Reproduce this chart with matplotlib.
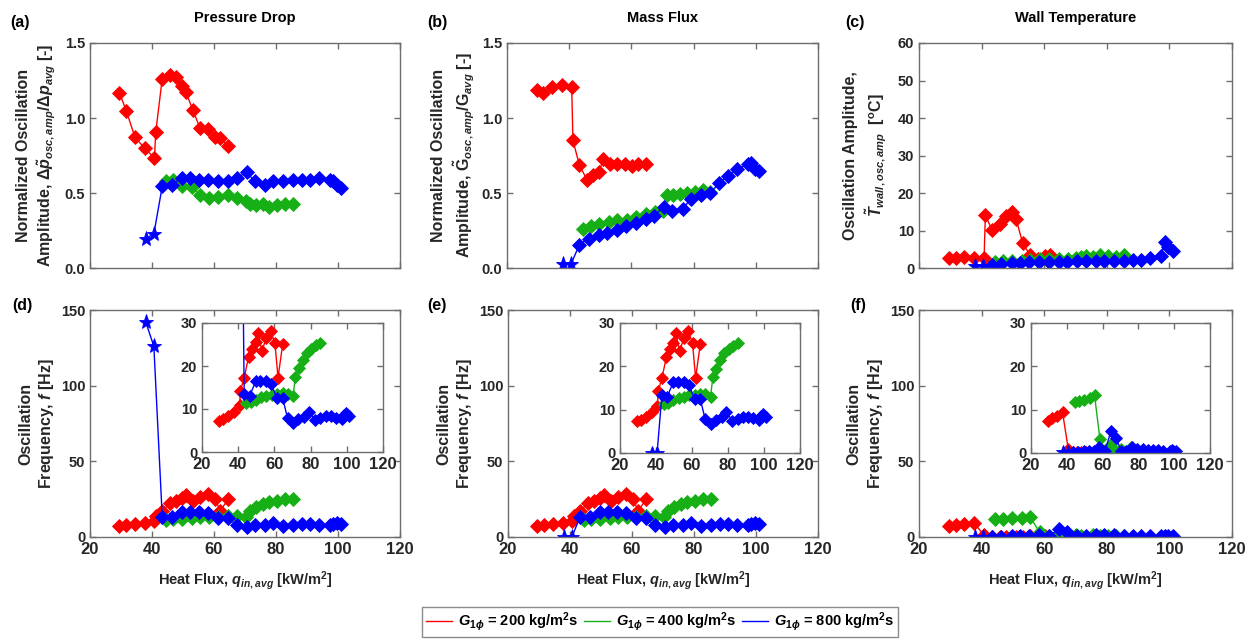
import matplotlib
matplotlib.use("Agg")
import matplotlib.pyplot as plt
from matplotlib.lines import Line2D

# ---------------- data ----------------
x_200 = [29.5, 31.7, 34.5, 37.6, 40.8, 41.2, 43.3, 45.8, 47.7, 49.6, 51.0, 53.1, 55.5, 58.0, 60.3, 62.0, 64.6]
x_400 = [44.4, 46.9, 49.6, 52.8, 55.5, 58.5, 61.4, 64.6, 67.5, 70.3, 71.6, 73.5, 75.7, 77.8, 80.4, 82.9, 85.4]
x_800 = [38.0, 40.6, 43.3, 46.3, 49.6, 52.3, 55.3, 58.2, 61.4, 64.6, 67.3, 70.5, 73.2, 76.5,
         79.1, 82.4, 85.4, 88.3, 91.0, 93.9, 97.4, 98.5, 99.6, 101.0]
n_star_800 = 2  # first two G=800 points drawn as stars

# (a) normalized pressure-drop amplitude
dp_200 = [1.167, 1.049, 0.871, 0.800, 0.733, 0.904, 1.262, 1.289, 1.273, 1.211, 1.171, 1.056, 0.933, 0.927, 0.871, 0.867, 0.811]
dp_400 = [0.578, 0.584, 0.544, 0.538, 0.489, 0.467, 0.471, 0.484, 0.467, 0.444, 0.429, 0.422, 0.429, 0.407, 0.422, 0.429, 0.429]
dp_800 = [0.196, 0.227, 0.544, 0.556, 0.600, 0.600, 0.589, 0.584, 0.578, 0.578, 0.600, 0.638, 0.578, 0.556,
          0.578, 0.578, 0.584, 0.589, 0.589, 0.600, 0.589, 0.578, 0.556, 0.533]

# (b) normalized mass-flux amplitude
g_200 = [1.186, 1.170, 1.210, 1.219, 1.210, 0.851, 0.684, 0.586, 0.617, 0.642, 0.729, 0.691, 0.691, 0.691, 0.680, 0.691, 0.691]
g_400 = [0.261, 0.279, 0.296, 0.305, 0.319, 0.323, 0.339, 0.362, 0.374, 0.380, 0.486, 0.490, 0.495, 0.501, 0.508, 0.519, 0.505]
g_800 = [0.027, 0.027, 0.156, 0.196, 0.218, 0.234, 0.256, 0.279, 0.301, 0.330, 0.350, 0.408, 0.379, 0.394,
         0.461, 0.486, 0.501, 0.568, 0.613, 0.657, 0.691, 0.702, 0.662, 0.646]

# (c) wall temperature amplitude
tw_200 = [2.7, 2.7, 2.9, 2.7, 2.7, 14.1, 10.2, 11.8, 13.8, 14.9, 13.1, 6.7, 3.4, 2.4, 3.3, 3.4, 2.2]
tw_400 = [1.5, 1.8, 2.0, 2.0, 2.2, 2.3, 2.3, 2.5, 2.5, 2.8, 3.0, 3.2, 3.0, 3.5, 3.2, 3.0, 3.6]
tw_800 = [0.5, 0.5, 0.8, 1.1, 1.3, 1.4, 1.5, 1.5, 1.5, 1.6, 1.7, 1.8, 1.9, 2.0, 1.9, 2.0,
          2.0, 2.2, 2.2, 2.6, 3.3, 7.0, 5.5, 4.5]

# (d) frequency from pressure drop
fdp_200 = [7.3, 7.6, 8.3, 9.4, 10.9, 14.2, 17.3, 22.2, 24.0, 25.5, 27.7, 23.5, 26.5, 28.1, 25.3, 17.3, 25.1]
fdp_400 = [11.3, 11.6, 12.2, 12.7, 13.0, 13.3, 13.5, 13.7, 13.6, 13.0, 17.5, 19.5, 21.5, 23.0, 24.0, 24.8, 25.3]
fdp_800 = [142.0, 126.0, 13.5, 13.0, 16.4, 16.5, 16.4, 15.8, 12.5, 12.5, 7.8, 6.7, 7.6, 8.2,
           9.4, 7.5, 7.8, 8.3, 8.3, 8.0, 7.6, 8.6, 9.0, 8.4]

# (e) frequency from mass flux
fg_200 = [7.3, 7.6, 8.3, 9.4, 10.9, 14.2, 17.3, 22.2, 24.0, 25.5, 27.7, 23.5, 26.5, 28.1, 25.3, 17.3, 25.1]
fg_400 = [11.3, 11.6, 12.2, 12.7, 13.0, 13.3, 13.5, 13.7, 13.6, 13.0, 17.5, 19.5, 21.5, 23.0, 24.0, 24.8, 25.3]
fg_800 = [0.0, 0.0, 13.5, 13.0, 16.4, 16.5, 16.4, 15.8, 12.5, 12.5, 7.8, 6.7, 7.6, 8.2,
          9.4, 7.5, 7.8, 8.3, 8.3, 8.0, 7.6, 8.6, 9.0, 8.4]

# (f) frequency from wall temperature
ft_200 = [7.3, 8.0, 8.6, 9.4, 1.0, 0.3, 0.3, 0.3, 0.3, 0.3, 0.3, 0.3, 0.5, 0.3, 0.5, 0.3, 1.5]
ft_400 = [11.7, 12.0, 12.3, 12.8, 13.3, 3.2, 0.8, 2.0, 0.5, 1.0, 0.5, 0.3, 1.5, 0.8, 0.5, 0.5, 0.5]
ft_800 = [0.3, 0.3, 0.3, 0.3, 0.5, 0.5, 0.5, 1.5, 0.5, 5.0, 3.5, 0.5, 0.5, 1.5,
          1.0, 1.0, 0.8, 0.8, 0.8, 0.5, 0.5, 0.8, 0.5, 0.5]

titles = ["Pressure Drop", "Mass Flux", "Wall Temperature"]
panel_tags = ["(a)", "(b)", "(c)", "(d)", "(e)", "(f)"]
legend_labels = [r"$G_{1\phi}$ = 200 kg/m$^2$s", r"$G_{1\phi}$ = 400 kg/m$^2$s", r"$G_{1\phi}$ = 800 kg/m$^2$s"]
x_ticks = [20, 40, 60, 80, 100, 120]

# ---------------- style ----------------
plt.rcParams["font.family"] = ["Liberation Sans", "DejaVu Sans"]
plt.rcParams["font.weight"] = "bold"
plt.rcParams["mathtext.fontset"] = "custom"
plt.rcParams["mathtext.rm"] = "Liberation Sans:bold"
plt.rcParams["mathtext.it"] = "Liberation Sans:bold:italic"
plt.rcParams["mathtext.bf"] = "Liberation Sans:bold"
plt.rcParams["axes.linewidth"] = 1.0

C_R, C_G, C_B = "#ff0000", "#16b016", "#0000ff"
SPINE = "#6e6e6e"
TXT = "#262626"

W, H = 1251, 642
fig = plt.figure(figsize=(W / 100, H / 100), dpi=100)


def px_axes(l, t, r, b):
    return fig.add_axes([l / W, 1 - b / H, (r - l) / W, (b - t) / H])


def style(ax, xsize=12, ysize=10.5, xlabels=True):
    for s in ax.spines.values():
        s.set_color(SPINE)
    ax.tick_params(direction="in", top=True, right=True, length=4, width=1, color=SPINE,
                   labelcolor=TXT)
    ax.tick_params(axis="x", labelsize=xsize, labelbottom=xlabels)
    ax.tick_params(axis="y", labelsize=ysize)
    ax.set_xlim(20, 120)
    ax.set_xticks(x_ticks)
    for lab in ax.get_xticklabels() + ax.get_yticklabels():
        lab.set_fontweight("bold")


def draw(ax, y200, y400, y800, ms=7):
    kw = dict(lw=1.0, marker="D", markersize=ms, markeredgewidth=0.6)
    ax.plot(x_200, y200, color=C_R, mec=C_R, **kw)
    ax.plot(x_400, y400, color=C_G, mec=C_G, **kw)
    ax.plot(x_800, y800, color=C_B, lw=1.0)
    ax.plot(x_800[n_star_800:], y800[n_star_800:], ls="none", color=C_B, mec=C_B,
            marker="D", markersize=ms, markeredgewidth=0.6)
    ax.plot(x_800[:n_star_800], y800[:n_star_800], ls="none", color=C_B, mec=C_B,
            marker="*", markersize=ms + 4, markeredgewidth=0.6)


# main axes positions (pixels: left, top, right, bottom)
top_pos = [(90, 43, 400, 268), (507, 43, 818, 268), (919, 43, 1232, 268)]
bot_pos = [(90, 310, 400, 537), (508, 310, 818, 537), (919, 310, 1232, 537)]
inset_pos = [(202, 323, 383, 452), (620, 323, 800, 453), (1031, 323, 1210, 453)]

top_data = [(dp_200, dp_400, dp_800), (g_200, g_400, g_800), (tw_200, tw_400, tw_800)]
bot_data = [(fdp_200, fdp_400, fdp_800), (fg_200, fg_400, fg_800), (ft_200, ft_400, ft_800)]

ylabels_top = [
    "Normalized Oscillation\n" + r"Amplitude, $\Delta\tilde{p}_{osc,amp}/\Delta p_{avg}$ [-]",
    "Normalized Oscillation\n" + r"Amplitude, $\tilde{\mathrm{G}}_{osc,amp}/\mathrm{G}_{avg}$ [-]",
    "Oscillation Amplitude,\n" + r"$\tilde{T}_{wall,osc,amp}$  [$^{\mathrm{o}}$C]",
]
ylabel_bot = "Oscillation\n" + r"Frequency, $f$ [Hz]"

for i in range(3):
    ax = px_axes(*top_pos[i])
    draw(ax, *top_data[i])
    style(ax, xlabels=False)
    if i < 2:
        ax.set_ylim(0, 1.5)
        ax.set_yticks([0, 0.5, 1.0, 1.5])
        ax.set_yticklabels(["0.0", "0.5", "1.0", "1.5"])
    else:
        ax.set_ylim(0, 60)
        ax.set_yticks(range(0, 61, 10))
    for lab in ax.get_yticklabels():
        lab.set_fontweight("bold")
    ax.set_ylabel(ylabels_top[i], fontsize=11.5, fontweight="bold", color=TXT,
                  va="center", linespacing=1.3)
    ax.yaxis.set_label_coords(-0.17, 0.5)
    ax.text(0.5, 1.111, titles[i], transform=ax.transAxes, ha="center", va="center",
            fontsize=10.5, fontweight="bold", color="black")

    axb = px_axes(*bot_pos[i])
    draw(axb, *bot_data[i])
    style(axb)
    axb.set_ylim(0, 150)
    axb.set_yticks([0, 50, 100, 150])
    for lab in axb.get_yticklabels():
        lab.set_fontweight("bold")
    axb.set_ylabel(ylabel_bot, fontsize=11.5, fontweight="bold", color=TXT,
                   va="center", linespacing=1.3)
    axb.yaxis.set_label_coords(-0.17, 0.5)
    axb.set_xlabel(r"Heat Flux, $q_{in,avg}$ [kW/m$^2$]", fontsize=10.5, fontweight="bold",
                   color=TXT, va="center")
    axb.xaxis.set_label_coords(0.5, -0.19)

    axi = px_axes(*inset_pos[i])
    draw(axi, *bot_data[i], ms=6.5)
    style(axi)
    axi.set_ylim(0, 30)
    axi.set_yticks([0, 10, 20, 30])
    for lab in axi.get_yticklabels():
        lab.set_fontweight("bold")

# panel tags
tag_xy = [(10, 22), (427, 22), (845, 22), (12, 306), (427, 306), (850, 306)]
for tag, (tx, ty) in zip(panel_tags, tag_xy):
    fig.text(tx / W, 1 - ty / H, tag, ha="left", va="center", fontsize=11.5,
             fontweight="bold", color="black")

# legend
handles = [Line2D([], [], color=c, lw=1.0) for c in (C_R, C_G, C_B)]
leg = fig.legend(handles, legend_labels, loc="center", bbox_to_anchor=(660 / W, 1 - 622 / H),
                 ncol=3, fontsize=10.5, frameon=True, fancybox=False, edgecolor=SPINE,
                 handlelength=1.8, handletextpad=0.4, columnspacing=0.4, borderpad=0.25,
                 borderaxespad=0.0)
leg.get_frame().set_linewidth(1.0)
for t in leg.get_texts():
    t.set_fontweight("bold")

fig.savefig("out.png", dpi=100)
